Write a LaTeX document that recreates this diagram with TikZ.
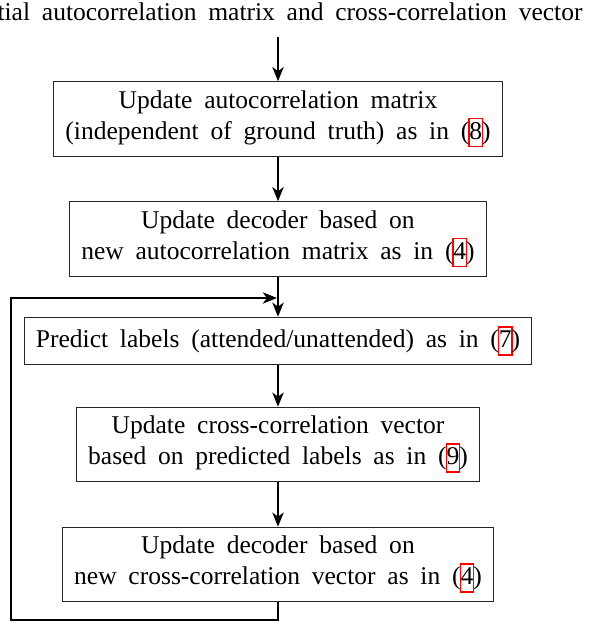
\documentclass[tikz,border=0pt]{standalone}
\usepackage{fontspec}
\setmainfont{Liberation Serif}
\usetikzlibrary{arrows.meta}
\newcommand\lnk[1]{\leavevmode\setbox0=\hbox{#1}\rlap{\kern-0.4pt{\color{red}\fboxsep=0pt\fboxrule=0.6pt\fbox{\vrule width0pt height7.8pt depth2.6pt\hbox to\dimexpr\wd0-0.4pt\relax{}}}}\box0}
\newcommand\diagfont{\fontsize{9.9}{12}\selectfont\spaceskip=0.46em\relax}
\tikzset{
  txt/.style={font=\diagfont},
  stepbox/.style={txt, draw=black!85, line width=0.4pt, align=center, inner xsep=4.5pt, inner ysep=3.4pt},
  arr/.style={line width=0.8pt, -{Stealth[length=5.5pt,width=4.4pt,inset=1.6pt]}},
}
\begin{document}
\begin{tikzpicture}[x=0.3876pt,y=-0.3876pt]
\useasboundingbox (0,0) rectangle (588,624);
\clip (0,0) rectangle (588,624);
\node[txt, anchor=base east, inner sep=0pt] (init) at (583,21) {Initial autocorrelation matrix and cross-correlation vector};
\coordinate (s) at (278,37);
\node[stepbox] (b1) at (278,119) {Update autocorrelation matrix\\(independent of ground truth) as in (\lnk{8})};
\node[stepbox] (b2) at (278,239) {Update decoder based on\\new autocorrelation matrix as in (\lnk{4})};
\node[stepbox] (b3) at (278,341) {Predict labels (attended/unattended) as in (\lnk{7})};
\node[stepbox] (b4) at (278,444.5) {Update cross-correlation vector\\based on predicted labels as in (\lnk{9})};
\node[stepbox] (b5) at (278,564.5) {Update decoder based on\\new cross-correlation vector as in (\lnk{4})};
\coordinate (j) at (278,298);
\coordinate (lb) at (11,620);
\draw[arr] (s) -- (b1.north);
\draw[arr] (b1.south) -- (b2.north);
\draw[arr] (b2.south) -- (b3.north);
\draw[arr] (b3.south) -- (b4.north);
\draw[arr] (b4.south) -- (b5.north);
\draw[arr, shorten >=0.4pt] (b5.south) -- (b5.south |- lb) -- (lb) |- (j);
\end{tikzpicture}
\end{document}
